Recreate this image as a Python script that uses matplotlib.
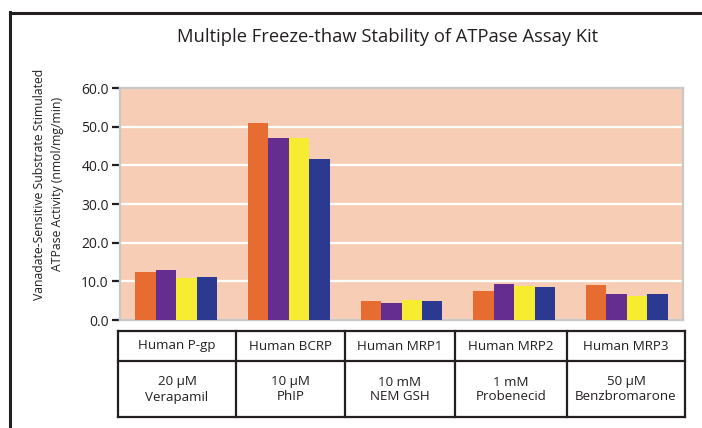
import numpy as np
import matplotlib
matplotlib.use("Agg")
import matplotlib.pyplot as plt
from matplotlib.lines import Line2D

plt.rcParams["font.family"] = ["Open Sans", "DejaVu Sans"]

# data
genes = ["Human P-gp", "Human BCRP", "Human MRP1", "Human MRP2", "Human MRP3"]
substrates = ["20 µM\nVerapamil", "10 µM\nPhIP", "10 mM\nNEM GSH",
              "1 mM\nProbenecid", "50 µM\nBenzbromarone"]
cycle1 = [12.4, 50.9, 4.9, 7.5, 9.0]
cycle2 = [12.9, 47.1, 4.4, 9.3, 6.7]
cycle3 = [10.9, 47.1, 5.2, 8.8, 6.2]
cycle4 = [11.1, 41.6, 4.9, 8.5, 6.7]
yticks = [0, 10, 20, 30, 40, 50, 60]

COLORS = ["#E66C32", "#662D91", "#F8EC31", "#2B3990"]
W, H = 702, 428

fig = plt.figure(figsize=(W / 100, H / 100), dpi=100)

def box(x0, y0, x1, y1):
    # pixel box (top-left origin) -> figure fraction rect
    return [x0 / W, 1 - y1 / H, (x1 - x0) / W, (y1 - y0) / H]

# outer frame
fig.add_artist(Line2D([9.5 / W, 9.5 / W], [0, 1 - 12 / H], color="#231F20", lw=2.2))
fig.add_artist(Line2D([9.5 / W, 1], [1 - 12.5 / H, 1 - 12.5 / H], color="#231F20", lw=2.2))

fig.text(388 / W, 1 - 37 / H, "Multiple Freeze-thaw Stability of ATPase Assay Kit",
         ha="center", va="center", fontsize=13.2, color="#231F20")

ax = fig.add_axes(box(120, 88, 683, 320))
ax.set_facecolor("#F7CDB5")
x = np.arange(len(genes))
bw = 0.182
for i, vals in enumerate([cycle1, cycle2, cycle3, cycle4]):
    ax.bar(x + (i - 1.5) * bw, vals, width=bw, color=COLORS[i], zorder=3)
ax.set_xlim(-0.5, len(genes) - 0.5)
ax.set_ylim(0, 60)
ax.set_yticks(yticks)
ax.set_yticklabels([f"{v:.1f}" for v in yticks], fontsize=10, color="#231F20")
ax.set_xticks([])
ax.yaxis.grid(True, color="white", lw=1.6, zorder=1)
ax.tick_params(axis="y", length=6, width=1.6, color="#231F20", pad=2)
for s in ax.spines.values():
    s.set_color("#C8C8C8")
    s.set_linewidth(1.6)
ax.set_ylabel("Vanadate-Sensitive Substrate Stimulated\nATPase Activity (nmol/mg/min)",
              fontsize=8.8, color="#231F20", linespacing=1.45)
ax.yaxis.set_label_coords((64 - 120) / (683 - 120), (320 - 184) / (320 - 88))

# table under the bars
cols = [118, 236, 345, 455, 567, 685]
rows = [331, 361, 417]
tax = fig.add_axes([0, 0, 1, 1])
tax.set_xlim(0, W)
tax.set_ylim(H, 0)
tax.axis("off")
lc = "#231F20"
for yy in rows:
    tax.plot([cols[0], cols[-1]], [yy, yy], color=lc, lw=1.6)
for xx in cols:
    tax.plot([xx, xx], [rows[0], rows[-1]], color=lc, lw=1.6)
for j in range(len(genes)):
    cx = (cols[j] + cols[j + 1]) / 2
    tax.text(cx, (rows[0] + rows[1]) / 2, genes[j], ha="center", va="center",
             fontsize=9.6, color=lc)
    tax.text(cx, (rows[1] + rows[2]) / 2 + 0.5, substrates[j], ha="center", va="center",
             fontsize=9.6, color=lc, linespacing=1.2)

fig.savefig("out.png", dpi=100)
plt.close(fig)
